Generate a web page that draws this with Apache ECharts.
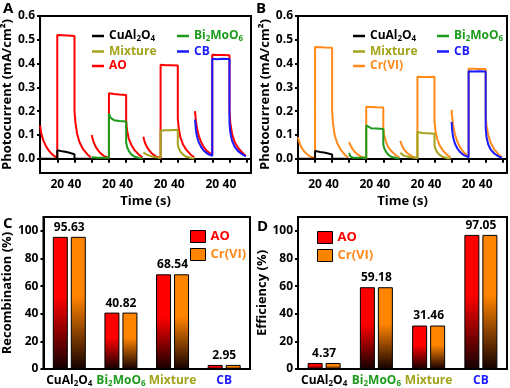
<!DOCTYPE html>
<html><head><meta charset="utf-8">
<script src="https://cdn.jsdelivr.net/npm/echarts@6/dist/echarts.min.js"></script>
<style>html,body{margin:0;padding:0;background:#fff}#c{width:510px;height:388px}</style>
</head><body><div id="c"></div>
<script>
const FONT = "'Open Sans', 'DejaVu Sans', sans-serif";

// ---- data ----
const cycleTime = [0,1,2,4,7,10,14,20,20,22,26,32,40,40,41,43,46,50,55,59];
const cycleStart = [0,60,120,180];
const timeTickValues = [20,40,80,100,140,160,200,220];
const timeTickLabels = ['20','40','20','40','20','40','20','40'];
const photoTicks = [0,0.1,0.2,0.3,0.4,0.5,0.6];
const percentTicks = [0,20,40,60,80,100];

// Panel A
const aAO1 = [0.14,0.115,0.098,0.075,0.052,0.035,0.018,0.003, 0.52,0.52,0.519,0.518,0.516, 0.2,0.155,0.105,0.068,0.04,0.018,0.006];
const aAO2 = [0.1,0.085,0.072,0.055,0.037,0.024,0.012,0.003, 0.275,0.274,0.272,0.27,0.268, 0.16,0.12,0.085,0.058,0.035,0.016,0.006];
const aAO3 = [0.092,0.078,0.066,0.05,0.034,0.022,0.011,0.002, 0.395,0.394,0.393,0.393,0.392, 0.17,0.13,0.09,0.06,0.037,0.017,0.006];
const aAO4 = [0.2,0.16,0.135,0.1,0.07,0.05,0.032,0.015, 0.437,0.437,0.436,0.436,0.435, 0.2,0.15,0.105,0.07,0.045,0.025,0.012];
const aCuAl2O4 = [0,0,0,0,0,0,0,0, 0.036,0.034,0.031,0.027,0.019, 0,0,0,0,0,0,0];
const aBi2MoO6 = [0.006,0.005,0.005,0.005,0.004,0.004,0.004,0.004, 0.19,0.172,0.162,0.159,0.157, 0.068,0.05,0.033,0.018,0.008,0.003,0.002];
const aMixture = [0.026,0.023,0.021,0.017,0.013,0.009,0.006,0.004, 0.118,0.119,0.12,0.12,0.122, 0.06,0.045,0.03,0.017,0.008,0.003,0.001];
const aCB = [0.165,0.12,0.098,0.072,0.05,0.035,0.022,0.012, 0.42,0.42,0.418,0.42,0.419, 0.15,0.11,0.075,0.05,0.032,0.018,0.01];

// Panel B
const bCr1 = [0.09,0.075,0.064,0.048,0.032,0.021,0.01,0.002, 0.47,0.47,0.469,0.468,0.467, 0.2,0.15,0.1,0.065,0.038,0.016,0.005];
const bCr2 = [0.07,0.06,0.052,0.04,0.027,0.018,0.009,0.002, 0.218,0.218,0.217,0.216,0.215, 0.13,0.1,0.072,0.048,0.03,0.013,0.004];
const bCr3 = [0.075,0.063,0.054,0.041,0.028,0.018,0.009,0.002, 0.345,0.345,0.344,0.344,0.345, 0.16,0.12,0.085,0.056,0.034,0.015,0.005];
const bCr4 = [0.205,0.165,0.138,0.102,0.07,0.048,0.028,0.008, 0.378,0.378,0.378,0.377,0.377, 0.18,0.14,0.1,0.066,0.04,0.018,0.006];
const bCuAl2O4 = [0,0,0,0,0,0,0,0, 0.033,0.031,0.028,0.025,0.018, 0,0,0,0,0,0,0];
const bBi2MoO6 = [0.025,0.012,0.008,0.005,0.004,0.004,0.004,0.004, 0.14,0.132,0.128,0.127,0.125, 0.06,0.045,0.03,0.016,0.007,0.003,0.001];
const bMixture = [0.025,0.02,0.017,0.013,0.01,0.007,0.005,0.003, 0.112,0.11,0.108,0.107,0.105, 0.055,0.042,0.028,0.016,0.007,0.002,0.001];
const bCB = [0.155,0.11,0.088,0.063,0.042,0.028,0.016,0.006, 0.368,0.368,0.367,0.368,0.367, 0.13,0.09,0.06,0.038,0.022,0.01,0.004];

// Panels C, D
const categories = ['CuAl2O4','Bi2MoO6','Mixture','CB'];
const recombAO = [95.63, 40.82, 68.54, 2.95];
const recombCr = [95.63, 40.82, 68.54, 2.95];
const effAO = [4.37, 59.18, 31.46, 97.05];
const effCr = [4.37, 59.18, 31.46, 97.05];

// ---- styles ----
const COLORS = {k:'#000000', g:'#1c9a1c', o:'#a3a31c', b:'#1a1aff', r:'#ff0000', y:'#ff8a1a'};
const nameKey = {'CuAl2O4':'k','Bi2MoO6':'g','Mixture':'o','CB':'b','AO':'r','Cr(VI)':'y'};
function richSet(size, sub) {
  const r = {};
  for (const k in COLORS) {
    r[k+'n'] = {color: COLORS[k], fontFamily: FONT, fontWeight: 'bold', fontSize: size, lineHeight: size + 2};
    r[k+'s'] = {color: COLORS[k], fontFamily: FONT, fontWeight: 'bold', fontSize: sub, lineHeight: sub, verticalAlign: 'bottom'};
  }
  return r;
}
function subText(name) {
  const key = nameKey[name];
  return name.split(/(\d+)/).filter(s => s !== '').map(s => /^\d+$/.test(s) ? `{${key}s|${s}}` : `{${key}n|${s}}`).join('');
}
function cycle(values, k) { return cycleTime.map((t, i) => [t + cycleStart[k], values[i]]); }
function line(name, values, k, gi, color) {
  return {type: 'line', name, xAxisIndex: gi, yAxisIndex: gi, data: cycle(values, k), symbol: 'none',
    color, lineStyle: {color, width: 2}, animation: false};
}
const axisLine = {show: true, lineStyle: {color: '#000', width: 2}};
const labelFont = {fontFamily: FONT, fontWeight: 'bold', fontSize: 12, color: '#000'};
const nameFont = {fontFamily: FONT, fontWeight: 'bold', fontSize: 13, color: '#000'};

function timeAxis(gi) {
  return {type: 'value', gridIndex: gi, min: 0, max: 245, interval: 20,
    axisLine, splitLine: {show: false},
    axisTick: {show: true, length: 4, lineStyle: {color: '#000', width: 2}},
    axisLabel: Object.assign({customValues: timeTickValues, margin: 6,
      formatter: v => timeTickLabels[timeTickValues.indexOf(v)] || ''}, labelFont),
    name: 'Time (s)', nameLocation: 'middle', nameGap: 22, nameTextStyle: nameFont};
}
function photoAxis(gi, gap) {
  return {type: 'value', gridIndex: gi, min: -0.06, max: 0.6,
    axisLine, splitLine: {show: false},
    axisTick: {show: true, length: 3, customValues: photoTicks, lineStyle: {color: '#000', width: 2}},
    axisLabel: Object.assign({customValues: photoTicks, margin: 5, formatter: v => v.toFixed(1)}, labelFont),
    name: 'Photocurrent (mA/cm²)', nameLocation: 'middle', nameGap: gap, nameRotate: 90, nameTextStyle: nameFont};
}
function catAxis(gi) {
  return {type: 'category', gridIndex: gi, data: categories, axisLine,
    axisTick: {show: false},
    axisLabel: {interval: 0, margin: 5, formatter: v => subText(v), rich: richSet(12, 8)}};
}
function pctAxis(gi, name, gap) {
  return {type: 'value', gridIndex: gi, min: 0, max: 110,
    axisLine, splitLine: {show: false},
    axisTick: {show: true, length: 3, customValues: percentTicks, lineStyle: {color: '#000', width: 2}},
    axisLabel: Object.assign({customValues: percentTicks, margin: 5}, labelFont),
    name, nameLocation: 'middle', nameGap: gap, nameRotate: 90, nameTextStyle: nameFont};
}
function grad(c) {
  return {type: 'linear', x: 0, y: 0, x2: 0, y2: 1,
    colorStops: [{offset: 0, color: c}, {offset: 0.45, color: c}, {offset: 1, color: '#140000'}]};
}
function bar(name, values, gi, c) {
  return {type: 'bar', name, xAxisIndex: gi, yAxisIndex: gi, data: values, barWidth: 15, barGap: '20%',
    itemStyle: {color: grad(c), borderColor: '#000', borderWidth: 1}, animation: false};
}
function valueLabels(values, gi) {
  return {type: 'scatter', name: 'values', xAxisIndex: gi, yAxisIndex: gi, data: values, symbolSize: 1,
    itemStyle: {color: 'rgba(0,0,0,0)', opacity: 1}, silent: true, animation: false, z: 5,
    label: {show: true, position: 'top', distance: 3, formatter: p => p.value.toFixed(2), opacity: 1,
      fontFamily: FONT, fontWeight: 'bold', fontSize: 12, color: '#000'}};
}
function lineLegend(left, names) {
  return {left, top: 25, orient: 'vertical', itemWidth: 12, itemHeight: 2.5, itemGap: 2.5, icon: 'rect',
    data: names, formatter: n => subText(n), textStyle: {rich: richSet(12, 8)}, selectedMode: false};
}
function barLegend(left, top) {
  return {left, top, orient: 'vertical', itemWidth: 15, itemHeight: 12, itemGap: 5, selectedMode: false,
    data: [{name: 'AO', icon: 'rect', itemStyle: {color: '#ff0000', borderColor: '#000', borderWidth: 1}},
           {name: 'Cr(VI)', icon: 'rect', itemStyle: {color: '#ff8400', borderColor: '#000', borderWidth: 1}}],
    formatter: n => subText(n), textStyle: {rich: richSet(13, 9)}};
}

const gridStyle = {show: true, borderColor: '#000', borderWidth: 2, backgroundColor: 'transparent'};
const option = {
  backgroundColor: '#fff',
  animation: false,
  grid: [
    Object.assign({left: 39, top: 16, width: 212, height: 157}, gridStyle),
    Object.assign({left: 298, top: 16, width: 209, height: 157}, gridStyle),
    Object.assign({left: 39, top: 217, width: 211, height: 155}, gridStyle),
    Object.assign({left: 298, top: 217, width: 209, height: 155}, gridStyle)
  ],
  xAxis: [timeAxis(0), timeAxis(1), catAxis(2), catAxis(3)],
  yAxis: [photoAxis(0, 21), photoAxis(1, 22), pctAxis(2, 'Recombination (%)', 23), pctAxis(3, 'Efficiency (%)', 24)],
  legend: [
    lineLegend(87, ['CuAl2O4','Mixture','AO']),
    lineLegend(172, ['Bi2MoO6','CB']),
    lineLegend(348, ['CuAl2O4','Mixture','Cr(VI)']),
    lineLegend(432, ['Bi2MoO6','CB']),
    barLegend(185, 225),
    barLegend(312, 226)
  ],
  graphic: [
    {type: 'text', left: 3, top: 1, style: {text: 'A', font: 'bold 15px ' + FONT, fill: '#000'}},
    {type: 'text', left: 256, top: 1, style: {text: 'B', font: 'bold 15px ' + FONT, fill: '#000'}},
    {type: 'text', left: 3, top: 216, style: {text: 'C', font: 'bold 15px ' + FONT, fill: '#000'}},
    {type: 'text', left: 257, top: 219, style: {text: 'D', font: 'bold 15px ' + FONT, fill: '#000'}}
  ],
  series: [
    line('AO', aAO1, 0, 0, COLORS.r), line('AO', aAO2, 1, 0, COLORS.r),
    line('AO', aAO3, 2, 0, COLORS.r), line('AO', aAO4, 3, 0, COLORS.r),
    line('CuAl2O4', aCuAl2O4, 0, 0, COLORS.k), line('Bi2MoO6', aBi2MoO6, 1, 0, COLORS.g),
    line('Mixture', aMixture, 2, 0, COLORS.o), line('CB', aCB, 3, 0, COLORS.b),
    line('Cr(VI)', bCr1, 0, 1, COLORS.y), line('Cr(VI)', bCr2, 1, 1, COLORS.y),
    line('Cr(VI)', bCr3, 2, 1, COLORS.y), line('Cr(VI)', bCr4, 3, 1, COLORS.y),
    line('CuAl2O4', bCuAl2O4, 0, 1, COLORS.k), line('Bi2MoO6', bBi2MoO6, 1, 1, COLORS.g),
    line('Mixture', bMixture, 2, 1, COLORS.o), line('CB', bCB, 3, 1, COLORS.b),
    bar('AO', recombAO, 2, '#ff0000'), bar('Cr(VI)', recombCr, 2, '#ff8400'), valueLabels(recombAO, 2),
    bar('AO', effAO, 3, '#ff0000'), bar('Cr(VI)', effCr, 3, '#ff8400'), valueLabels(effAO, 3)
  ]
};
const chart = echarts.init(document.getElementById('c'), null, {renderer: 'canvas'});
chart.setOption(option);
</script></body></html>
